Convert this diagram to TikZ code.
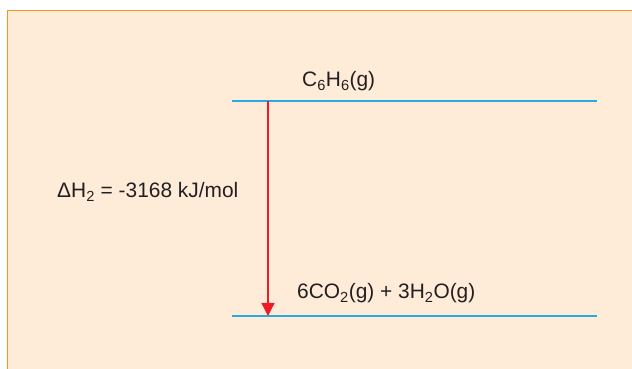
\documentclass[tikz,border=0pt]{standalone}
\usepackage{fontspec}
\setmainfont{Liberation Sans}
\usepackage{tikz}
\usetikzlibrary{arrows.meta, positioning}
\definecolor{mypanel}{RGB}{254,236,217}
\definecolor{myorange}{RGB}{247,148,30}
\definecolor{myblue}{RGB}{39,170,225}
\definecolor{myred}{RGB}{237,28,36}
\definecolor{mytext}{RGB}{35,31,32}
\tikzset{
  level/.style={draw=myblue, line width=1.8pt},
  drop/.style={-{Triangle[length=13pt, width=13pt]}, draw=myred, line width=1.3pt},
  label/.style={inner sep=0pt, anchor=base west, text=mytext,
    font=\fontsize{20.9}{24}\selectfont}
}

\begin{document}
\begin{tikzpicture}[x=1pt, y=1pt]
  \useasboundingbox (0,0) rectangle (632,369);
  % Panel
  \fill[mypanel] (7,0) rectangle (632,359);
  \draw[myorange, line width=1.6pt] (7.5,0) -- (7.5,358.5) -- (632,358.5);

  % Energy levels
  \coordinate (topL) at (232,268);
  \coordinate (topR) at (597,268);
  \coordinate (botL) at (232,53);
  \coordinate (botR) at (597,53);
  \draw[level] (topL) -- (topR);
  \draw[level] (botL) -- (botR);

  % Reaction arrow
  \coordinate (start) at (268,268);
  \coordinate (end) at (268,53);
  \draw[drop] (start) -- (end);

  % Labels
  \node[label] (react) at (302,282) {C\textsubscript{6}H\textsubscript{6}(g)};
  \node[label] (prod) at (297,70) {6CO\textsubscript{2}(g) + 3H\textsubscript{2}O(g)};
  \node[label] (dh) at (57,171) {ΔH\textsubscript{2} = -3168 kJ/mol};
\end{tikzpicture}
\end{document}
